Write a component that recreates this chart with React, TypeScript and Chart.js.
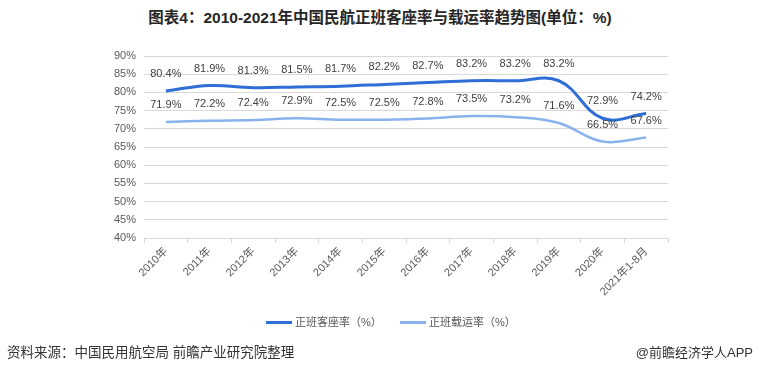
import React, { useEffect, useRef } from "react";
import { Chart, registerables } from "chart.js";

Chart.register(...registerables);

const categories = ["2010年", "2011年", "2012年", "2013年", "2014年", "2015年", "2016年", "2017年", "2018年", "2019年", "2020年", "2021年1-8月"];
const seatRate = [80.4, 81.9, 81.3, 81.5, 81.7, 82.2, 82.7, 83.2, 83.2, 83.2, 72.9, 74.2];
const loadRate = [71.9, 72.2, 72.4, 72.9, 72.5, 72.5, 72.8, 73.5, 73.2, 71.6, 66.5, 67.6];
const seriesNames = ["正班客座率（%）", "正班载运率（%）"];
const yMin = 40;
const yMax = 90;
const yStep = 5;

const FONT = '"Liberation Sans", Arial, "Noto Sans CJK SC", sans-serif';
const DARK = "#2F6ED6";
const LIGHT = "#8AB3EE";

const labelPlugin = {
  id: "pointLabels",
  afterDatasetsDraw(chart: any) {
    const ctx = chart.ctx;
    ctx.save();
    ctx.font = `11px ${FONT}`;
    ctx.fillStyle = "#404040";
    ctx.textAlign = "center";
    ctx.textBaseline = "middle";
    chart.data.datasets.forEach((ds: any, i: number) => {
      const meta = chart.getDatasetMeta(i);
      meta.data.forEach((pt: any, j: number) => {
        ctx.fillText(ds.data[j].toFixed(1) + "%", pt.x, pt.y - 17);
      });
    });
    ctx.restore();
  },
};

export default function App() {
  const ref = useRef<HTMLCanvasElement | null>(null);
  useEffect(() => {
    if (!ref.current) return;
    const chart = new Chart(ref.current, {
      type: "line",
      data: {
        labels: categories,
        datasets: [
          { label: seriesNames[0], data: seatRate, borderColor: DARK, backgroundColor: DARK, borderWidth: 3, pointRadius: 0, tension: 0.4 },
          { label: seriesNames[1], data: loadRate, borderColor: LIGHT, backgroundColor: LIGHT, borderWidth: 2.5, pointRadius: 0, tension: 0.4 },
        ],
      },
      options: {
        animation: false,
        responsive: false,
        maintainAspectRatio: false,
        layout: { padding: { top: 56, right: 92, left: 0, bottom: 0 } },
        plugins: { legend: { display: false }, title: { display: false }, tooltip: { enabled: false } },
        scales: {
          x: {
            offset: true,
            grid: { offset: true, drawOnChartArea: false, drawTicks: true, tickLength: 5, color: "#d9d9d9" },
            border: { color: "#d9d9d9" },
            ticks: { maxRotation: 45, minRotation: 45, color: "#595959", font: { size: 11, family: FONT }, padding: 2, autoSkip: false },
            afterFit: (s: any) => { s.height = 136; },
          },
          y: {
            min: yMin,
            max: yMax,
            grid: { color: "#d9d9d9", drawTicks: false },
            border: { display: false },
            ticks: { stepSize: yStep, color: "#595959", font: { size: 11, family: FONT }, padding: 8, callback: (v: any) => v + "%" },
            afterFit: (s: any) => { s.width = 144; },
          },
        },
      },
      plugins: [labelPlugin],
    });
    return () => chart.destroy();
  }, []);

  const legendItem = (color: string, text: string, w: number) => (
    <div style={{ display: "flex", alignItems: "center", width: w }}>
      <div style={{ width: 26, height: 3, background: color, marginRight: 3 }} />
      <span>{text}</span>
    </div>
  );

  return (
    <div style={{ position: "fixed", left: 0, top: 0, width: 760, height: 374, background: "#fff", fontFamily: FONT }}>
      <div style={{ position: "absolute", top: 8, left: 0, width: 760, textAlign: "center", fontSize: 15.5, fontWeight: "bold", color: "#262626", lineHeight: "20px" }}>
        图表4：2010-2021年中国民航正班客座率与载运率趋势图(单位：%)
      </div>
      <canvas ref={ref} width={760} height={374} style={{ position: "absolute", left: 0, top: 0, width: 760, height: 374 }} />
      <div style={{ position: "absolute", top: 314, left: 266, display: "flex", fontSize: 11, color: "#595959", lineHeight: "16px" }}>
        {legendItem(DARK, seriesNames[0], 134)}
        {legendItem(LIGHT, seriesNames[1], 140)}
      </div>
      <div style={{ position: "absolute", top: 344, left: 7, fontSize: 13.5, color: "#333", lineHeight: "18px" }}>
        资料来源：中国民用航空局 前瞻产业研究院整理
      </div>
      <div style={{ position: "absolute", top: 344, right: 7, fontSize: 13, color: "#333", lineHeight: "18px" }}>
        @前瞻经济学人APP
      </div>
    </div>
  );
}
